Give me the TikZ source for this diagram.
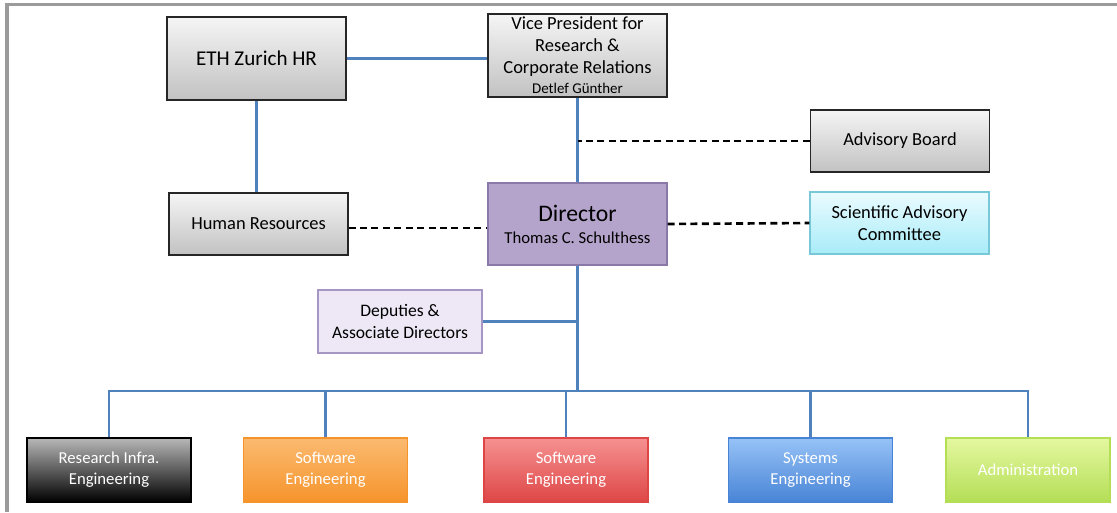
\documentclass[tikz,border=0pt]{standalone}
\usepackage{fontspec}
\setmainfont{Carlito}
\usetikzlibrary{calc}

\definecolor{linkblue}{RGB}{79,129,189}
\definecolor{framegray}{RGB}{155,155,155}
\definecolor{dirfill}{RGB}{180,163,203}
\definecolor{dirline}{RGB}{138,120,168}
\definecolor{depfill}{RGB}{238,232,246}
\definecolor{depline}{RGB}{165,150,195}
\definecolor{sactop}{RGB}{234,251,255}
\definecolor{sacbot}{RGB}{168,236,248}
\definecolor{sacline}{RGB}{120,200,215}
\definecolor{orgtop}{RGB}{251,186,112}
\definecolor{orgbot}{RGB}{246,148,44}
\definecolor{redtop}{RGB}{246,145,145}
\definecolor{redbot}{RGB}{222,70,70}
\definecolor{blutop}{RGB}{150,194,246}
\definecolor{blubot}{RGB}{72,132,214}
\definecolor{grntop}{RGB}{228,248,160}
\definecolor{grnbot}{RGB}{180,222,86}

\tikzset{
  box/.style={draw=black!85, line width=0.7pt, minimum width=3.58cm, align=center,
    inner sep=1pt, font=\fontsize{10.5}{12.5}\selectfont},
  graybox/.style={box, top color=black!4, bottom color=black!24},
  dirbox/.style={box, fill=dirfill, draw=dirline, minimum height=1.64cm},
  sacbox/.style={box, top color=sactop, bottom color=sacbot, draw=sacline, minimum height=1.24cm},
  depbox/.style={box, fill=depfill, draw=depline, minimum width=3.28cm, minimum height=1.26cm,
    font=\fontsize{10}{12}\selectfont},
  unit/.style={box, minimum width=3.28cm, minimum height=1.28cm, text=white,
    font=\fontsize{9.5}{12}\selectfont},
  link/.style={draw=linkblue, line width=1.3pt},
  assoc/.style={draw=black, line width=1.5pt, dash pattern=on 4pt off 2.5pt},
  frame/.style={draw=framegray, line width=1.8pt}
}

\begin{document}
\begin{tikzpicture}[x=0.02cm, y=-0.02cm]
  %%%%% START %%%%%
  \useasboundingbox (0,0) rectangle (1117,512);
  \draw[frame] (7,512) -- (7,4.5) -- (1117,4.5);

  % top level
  \node[graybox, minimum height=1.66cm, font=\fontsize{12}{14}\selectfont] (eth) at (256.5,58.5) {ETH Zurich HR};
  \node[graybox, minimum height=1.66cm] (vp) at (577.5,55.5)
    {Vice President for\\Research \&\\Corporate Relations\\[-1pt]{\fontsize{8.5}{9}\selectfont Detlef Günther}};

  % director and boards
  \node[graybox, minimum height=1.24cm] (adv) at (900,141) {Advisory Board};
  \node[graybox, minimum height=1.24cm] (hr) at (258.5,224) {Human Resources};
  \node[dirbox] (dir) at (577.5,224)
    {{\fontsize{13.5}{16}\selectfont Director}\\{\fontsize{9.5}{11}\selectfont Thomas C. Schulthess}};
  \node[sacbox] (sac) at (899.5,223) {Scientific Advisory\\Committee};
  \node[depbox] (dep) at (400,321.5) {Deputies \&\\Associate Directors};

  % units
  \node[unit, top color=black!28, bottom color=black, draw=black] (rie) at (109,470) {Research Infra.\\Engineering};
  \node[unit, top color=orgtop, bottom color=orgbot, draw=orgbot] (swo) at (325.5,470) {Software\\Engineering};
  \node[unit, top color=redtop, bottom color=redbot, draw=redbot] (swr) at (566,470) {Software\\Engineering};
  \node[unit, top color=blutop, bottom color=blubot, draw=blubot] (sys) at (810.5,470) {Systems\\Engineering};
  \node[unit, top color=grntop, bottom color=grnbot, draw=grnbot] (adm) at (1028,470) {Administration};

  % reporting lines
  \coordinate (bus) at (577.5,391);
  \draw[link] (eth.east) -- (eth.east -| vp.west);
  \draw[link] (eth.south) -- (eth.south |- hr.north);
  \draw[link] (vp.south) -- (dir.north);
  \draw[link] (dir.south) -- (bus);
  \draw[link] (dep.east) -- (dep.east -| dir.south);
  \draw[link] (rie.north) |- (bus) -| (adm.north);
  \foreach \n in {swo,swr,sys}
    \draw[link] (\n.north) -- (\n.north |- bus);

  % advisory lines
  \draw[assoc] ([yshift=-0.08cm]hr.east) -- ([yshift=-0.08cm]hr.east -| dir.west);
  \draw[assoc] (dir.east) -- (sac.west);
  \draw[assoc] (adv.west) -- (adv.west -| dir.north);
  %%%%% END %%%%%
\end{tikzpicture}
\end{document}
